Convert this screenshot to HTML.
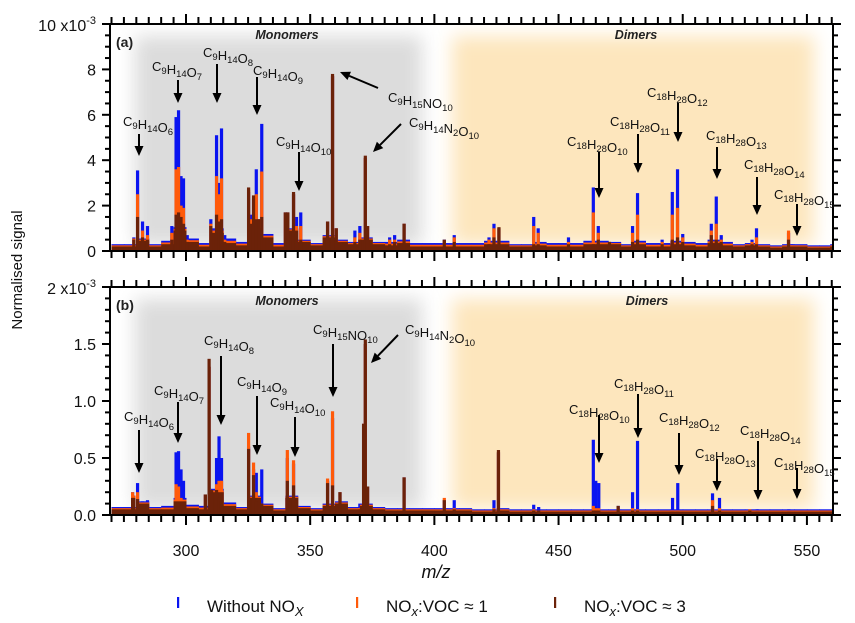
<!DOCTYPE html>
<html><head><meta charset="utf-8"><style>
html,body{margin:0;padding:0;background:#fff;}
svg{display:block;font-family:"Liberation Sans",Arial,sans-serif;}
</style></head><body>
<svg id="chart" width="855" height="623" viewBox="0 0 855 623" xmlns="http://www.w3.org/2000/svg">
<defs>
<filter id="blur" x="-20%" y="-20%" width="140%" height="140%"><feGaussianBlur stdDeviation="9"/></filter>
<clipPath id="clipA"><rect x="110" y="24" width="723" height="227"/></clipPath>
<clipPath id="clipB"><rect x="110" y="287" width="723" height="228"/></clipPath>
</defs>
<g id="root"></g>
</svg>
<script>
// ---------- data (units of 1e-3) ----------
const xTicks = [300, 350, 400, 450, 500, 550];
const yTicksA = [0, 2, 4, 6, 8];
const yTicksB = [0, 0.5, 1.0, 1.5];
const yTickLabelsB = ["0.0", "0.5", "1.0", "1.5"];

// Panel (a) peaks
const mzA = [279,280.5,282.5,284.5,294.3,296,297,298,299,300.5,310,312.3,313.3,314.3,315.6,325.2,326.4,327.2,328.3,329.3,330.5,331.4,340,341,343.3,344.5,346.2,357,359,360.5,368,370,372.2,373.1,382,384,387.8,404,408,422,424,426,440,441.8,454,464,466,470.5,479.8,481.8,491.7,495.8,497.9,500,511.5,513.5,515.5,527.9,529.7,542.6,544,560];
const blueA = [0.6,3.55,1.3,1.1,1.1,5.9,6.2,3.3,3.2,0.7,1.4,5.1,3.0,5.4,0.7,2.6,1.6,2.3,3.6,1.4,5.6,0.6,1.7,1.7,2.5,1.5,1.7,1.3,7.7,1.0,0.9,1.1,4.1,1.1,0.6,0.7,1.2,0.5,0.7,0.6,1.2,1.0,1.5,1.0,0.6,2.8,1.1,0.4,1.1,2.55,0.5,2.6,3.6,0.75,1.2,2.4,0.7,0.5,1.0,0.8,0.3,0.3];
const orangeA = [0.55,2.5,0.9,0.7,0.8,3.6,3.7,2.0,1.9,0.5,1.2,3.3,2.5,3.2,0.5,2.7,1.4,2.4,2.5,1.4,3.5,0.5,1.7,1.7,2.5,1.1,1.1,1.3,7.7,1.0,0.6,0.8,4.1,1.1,0.5,0.5,1.2,0.45,0.6,0.5,1.0,1.0,1.1,0.8,0.4,1.7,0.8,0.4,0.8,1.6,0.4,1.6,1.9,0.6,0.9,1.2,0.5,0.4,0.6,0.9,0.25,0.25];
const brownA = [0.5,1.5,0.6,0.5,0.5,1.6,1.7,1.5,1.2,0.4,1.1,1.6,1.3,1.4,0.4,2.8,1.2,2.45,1.4,1.4,1.5,0.5,1.7,1.7,2.6,0.8,0.5,1.3,7.8,1.0,0.4,0.5,4.2,1.1,0.3,0.4,1.2,0.5,0.4,0.3,0.6,1.05,0.3,0.3,0.3,0.3,0.5,0.4,0.4,0.5,0.3,0.5,0.6,0.4,0.7,0.5,0.4,0.3,0.3,0.5,0.2,0.2];
// Panel (a) baseline levels per 5 m/z bin starting at 270
const baseA = [0.2,0.2,0.45,0.2,0.3,0.9,0.4,0.2,0.8,0.35,0.25,1.0,0.6,0.2,0.9,0.4,0.25,0.6,0.4,0.3,0.5,0.3,0.25,0.35,0.2,0.2,0.2,0.2,0.2,0.2,0.3,0.3,0.2,0.2,0.25,0.2,0.2,0.2,0.3,0.3,0.3,0.2,0.3,0.2,0.2,0.3,0.25,0.2,0.35,0.25,0.2,0.25,0.2,0.15,0.2,0.2,0.15,0.15];
const baseExtraA = [0.1,0.1,0.15,0.15,0.2,0.15,0.15,0.1,0.1,0.1,0.1,0.15,0.15,0.15,0.15,0.15,0.1,0.15,0.15,0.15,0.1,0.15,0.15,0.15,0.15,0.1,0.1,0.1,0.1];

// Panel (b) peaks
const mzB = [278.5,279,280.5,282.5,284.5,296,297,298,299,307.8,309.3,310.3,312.3,313.3,314.3,325.2,327.2,328.3,330.5,340.8,343.3,345,357,359,362,370,371.5,372.2,373.1,387.8,404,408,424,425.8,440,442,464,465,466.2,474,479.8,481.8,495.9,498,512,514.8,527,530,542.7,560];
const blueB = [0.2,0.17,0.28,0.12,0.13,0.55,0.56,0.4,0.3,0.18,1.3,0.22,0.5,0.69,0.5,0.6,0.4,0.37,0.4,0.5,0.45,0.08,0.3,0.85,0.2,0.1,0.8,1.5,0.25,0.33,0.13,0.13,0.13,0.55,0.09,0.07,0.66,0.3,0.28,0.08,0.2,0.65,0.15,0.28,0.19,0.15,0.05,0.05,0.05,0.03];
const orangeB = [0.2,0.17,0.2,0.08,0.1,0.27,0.25,0.15,0.1,0.18,1.3,0.22,0.27,0.3,0.3,0.72,0.46,0.2,0.1,0.57,0.48,0.05,0.32,0.91,0.2,0.06,0.8,1.5,0.25,0.33,0.15,0.06,0.06,0.55,0.05,0.04,0.08,0.06,0.06,0.06,0.06,0.05,0.04,0.04,0.13,0.06,0.05,0.03,0.03,0.03];
const brownB = [0.15,0.15,0.14,0.06,0.08,0.1,0.1,0.08,0.06,0.18,1.37,0.22,0.22,0.15,0.12,0.58,0.35,0.12,0.1,0.3,0.26,0.04,0.28,0.26,0.2,0.05,0.8,1.54,0.25,0.33,0.13,0.05,0.05,0.57,0.04,0.04,0.04,0.04,0.04,0.08,0.04,0.04,0.03,0.03,0.08,0.04,0.04,0.03,0.03,0.03];
const baseB = [0.05,0.05,0.1,0.05,0.05,0.12,0.06,0.05,0.2,0.08,0.05,0.15,0.08,0.04,0.15,0.06,0.04,0.08,0.1,0.05,0.08,0.05,0.04,0.04,0.04,0.04,0.04,0.04,0.04,0.03,0.03,0.04,0.03,0.03,0.03,0.03,0.03,0.03,0.03,0.03,0.03,0.03,0.03,0.03,0.03,0.03,0.03,0.03,0.03,0.03,0.03,0.03,0.03,0.03,0.03,0.03,0.03,0.03];
const baseExtraB = [0.02,0.02,0.03,0.03,0.03,0.02,0.02,0.02,0.02,0.02,0.02,0.02,0.02,0.02,0.02,0.02,0.02,0.02,0.02,0.02,0.02,0.02,0.02,0.02,0.02,0.02,0.02,0.02,0.02];

// annotations: formula, text x, text y, arrow x1,y1,x2,y2
const annA = [
 ["C9H14O6",123,126,139,134,139,156],["C9H14O7",152,71,178,80,178,103],["C9H14O8",203,57,217,64,217,103],
 ["C9H14O9",253,75,257,77,257,115],["C9H14O10",276,146,299,152,299,191],["C9H15NO10",388,102,378,88,340,72],
 ["C9H14N2O10",409,127,401,124,373,152],["C18H28O10",567,146,599,152,599,198],["C18H28O11",610,126,638,134,638,173],
 ["C18H28O12",647,97,678,103,678,142],["C18H28O13",706,140,717,147,717,179],["C18H28O14",744,169,757,177,757,215],
 ["C18H28O15",774,199,797,204,797,236]];
const annB = [
 ["C9H14O6",124,421,139,430,139,473],["C9H14O7",154,395,178,402,178,443],["C9H14O8",204,345,221,356,221,425],
 ["C9H14O9",237,386,257,396,257,455],["C9H14O10",270,407,295,417,295,457],["C9H15NO10",313,334,333,344,333,397],
 ["C9H14N2O10",405,334,398,335,371,363],["C18H28O10",569,414,599,415,599,463],["C18H28O11",614,388,638,394,638,438],
 ["C18H28O12",659,422,679,433,679,475],["C18H28O13",695,458,717,459,717,491],["C18H28O14",740,435,758,441,758,500],
 ["C18H28O15",774,467,797,468,797,499]];

// ---------- drawing ----------
const NS = "http://www.w3.org/2000/svg";
const root = document.getElementById("root");
function mk(tag, attrs, parent){ const e=document.createElementNS(NS,tag); for(const k in attrs) e.setAttribute(k,attrs[k]); (parent||root).appendChild(e); return e; }
const X0=110, X1=833, XMIN=269.4, XMAX=560.5;
function xs(v){ return X0 + (v-XMIN)/(XMAX-XMIN)*(X1-X0); }
function makeY(top,bottom,max){ return v => bottom - v/max*(bottom-top); }

function panel(id, top, bottom, max, yt, ytl, minorStep, topLabel, mz, blue, orange, brown, base, baseExtra, ann, letter, clip, monoY, dimY, dimX){
  const ys = makeY(top,bottom,max);
  const g = mk("g",{});
  
  
  const mono = mk("rect",{x:135,y:top+12,width:287,height:bottom-top-18,fill:"#dcdcdc",filter:"url(#blur)","clip-path":clip},g);
  
  
  const dim = mk("rect",{x:452,y:top+12,width:362,height:bottom-top-18,fill:"#fde6bd",filter:"url(#blur)","clip-path":clip},g);
  
  
  const bars = mk("g",{"clip-path":clip},g);
  
  
  const bw = (X1-X0)/(XMAX-XMIN)*5;
  const series = [["#0a14f0",blue,1],["#ff5a0a",orange,0.5],["#6b2209",brown,0]];
  series.forEach(([col,vals,ef])=>{
    base.forEach((b,i)=>{
      const v = b + baseExtra[Math.floor(i/2)]*ef;
      const r = mk("rect",{x:xs(270+i*5),y:ys(v),width:bw+0.5,height:bottom-ys(v),fill:col},bars);
      
      
    });
    vals.forEach((v,i)=>{
      const r = mk("rect",{x:xs(mz[i])-1.6,y:ys(v),width:3.2,height:bottom-ys(v),fill:col},bars);
      
      
    });
  });
  mk("rect",{x:X0,y:top,width:X1-X0,height:bottom-top,fill:"none",stroke:"#000","stroke-width":2},g);
  for(let v=270; v<=560; v+=5){
    const major = v%50===0;
    const L = major?10:7;
    mk("line",{x1:xs(v),x2:xs(v),y1:top,y2:top-L,stroke:"#000","stroke-width":2},g);
    mk("line",{x1:xs(v),x2:xs(v),y1:bottom,y2:bottom+L,stroke:"#000","stroke-width":2},g);
  }
  for(let v=0; v<=max+1e-9; v+=minorStep){
    const isMaj = Math.abs(v/ (yt[1]-yt[0]) - Math.round(v/(yt[1]-yt[0])))<1e-6;
    const L = isMaj?8:5;
    mk("line",{x1:X0,x2:X0-L,y1:ys(v),y2:ys(v),stroke:"#000","stroke-width":2},g);
    mk("line",{x1:X1,x2:X1+L,y1:ys(v),y2:ys(v),stroke:"#000","stroke-width":2},g);
  }
  yt.forEach((v,i)=>{
    const t = mk("text",{x:X0-14,y:ys(v)+6,"text-anchor":"end","font-size":16,fill:"#111"},g);
    t.textContent = ytl[i];
    
    
  });
  const tl = mk("text",{x:X0-14,y:top+7,"text-anchor":"end","font-size":16,fill:"#111"},g);
  tl.innerHTML = topLabel + ' x10<tspan dy="-7" font-size="11">-3</tspan>';
  
  
  const lt = mk("text",{x:116,y:top+23,"font-size":14,"font-weight":"bold",fill:"#222"},g);
  lt.textContent = letter;
  
  
  const mt = mk("text",{x:287,y:monoY,"text-anchor":"middle","font-size":12.5,"font-weight":"bold","font-style":"italic",fill:"#222"},g);
  mt.textContent = "Monomers";
  
  
  const dt = mk("text",{x:dimX,y:dimY,"text-anchor":"middle","font-size":12.5,"font-weight":"bold","font-style":"italic",fill:"#222"},g);
  dt.textContent = "Dimers";
  
  
  ann.forEach(a=>{
    const [f,tx,ty,x1,y1,x2,y2] = a;
    const t = mk("text",{x:tx,y:ty,"font-size":13,fill:"#111"},g);
    t.innerHTML = f.replace(/(\d+)/g,'<tspan font-size="9.5" dy="3">$1</tspan><tspan dy="-3"></tspan>');
    
    
    const ang = Math.atan2(y2-y1,x2-x1), hl=10, hw=4.5;
    const bx = x2 - hl*Math.cos(ang), by = y2 - hl*Math.sin(ang);
    const ln = mk("line",{x1:x1,y1:y1,x2:bx,y2:by,stroke:"#000","stroke-width":2},g);
    
    
    const px = -Math.sin(ang)*hw, py = Math.cos(ang)*hw;
    mk("polygon",{points:`${x2},${y2} ${bx+px},${by+py} ${bx-px},${by-py}`,fill:"#000"},g);
  });
}
panel("panel-a",24,251,10,yTicksA,yTicksA.map(String),0.5,"10",mzA,blueA,orangeA,brownA,baseA,baseExtraA,annA,"(a)","url(#clipA)",39,39,636);
panel("panel-b",287,515,2,yTicksB,yTickLabelsB,0.1,"2",mzB,blueB,orangeB,brownB,baseB,baseExtraB,annB,"(b)","url(#clipB)",305,305,647);

xTicks.forEach(v=>{
  const t = mk("text",{x:xs(v),y:556,"text-anchor":"middle","font-size":16,fill:"#111"});
  t.textContent = v;
  
  
});
const xt = mk("text",{x:436,y:578,"text-anchor":"middle","font-size":18,"font-style":"italic",fill:"#111"});
xt.textContent = "m/z";


const yt = mk("text",{x:0,y:0,"text-anchor":"middle","font-size":15,fill:"#111",transform:"translate(22,270) rotate(-90)"});
yt.textContent = "Normalised signal";



const legend = [["#0a14f0",178,207,'Without NO<tspan dy="4" font-size="13" font-style="italic">X</tspan>'],
                ["#ff5a0a",357,386,'NO<tspan dy="4" font-size="13" font-style="italic">x</tspan><tspan dy="-4">:VOC ≈ 1</tspan>'],
                ["#6b2209",555,584,'NO<tspan dy="4" font-size="13" font-style="italic">x</tspan><tspan dy="-4">:VOC ≈ 3</tspan>']];
legend.forEach(l=>{
  const m = mk("rect",{x:l[1]-1,y:597,width:2.2,height:11,fill:l[0]});
  
  
  const t = mk("text",{x:l[2],y:612,"font-size":17,fill:"#111"});
  t.innerHTML = l[3];
  
  
});
</script>
</body></html>
